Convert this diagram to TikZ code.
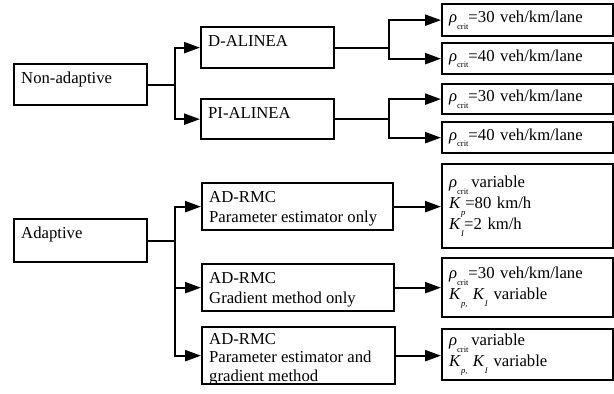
\documentclass[tikz,border=0pt]{standalone}
\usepackage{fontspec}
\setmainfont{Liberation Serif}
\usetikzlibrary{arrows.meta}
\tikzset{>={Triangle[length=16pt,width=11pt]}}
\tikzset{cell/.style={draw, line width=2.3pt, anchor=north west, inner sep=0pt},
  txt/.style={anchor=north west, align=left, inner xsep=8pt, inner ysep=9pt, font=\fontsize{16.7}{20.5}\selectfont},
  res/.style={cell, align=left, inner xsep=7pt, text width=157pt, font=\fontsize{16.7}{21}\selectfont},
  link/.style={->, line width=2.3pt}}
\newcommand{\lowsub}[1]{\raisebox{-6.5pt}{\fontsize{8.5}{8.5}\selectfont #1}}
\newcommand{\rhocrit}{\textit{ρ}\lowsub{crit}}

\begin{document}
\begin{tikzpicture}[x=1pt, y=-1pt]
    \useasboundingbox (0,0) rectangle (614,394);
    % controllers
    \node[cell, minimum width=133, minimum height=41, label={[txt]north west:Non-adaptive}] (nonad) at (13,63) {};
    \node[cell, minimum width=133, minimum height=43, label={[txt]north west:Adaptive}] (adapt) at (13,218) {};
    \node[cell, minimum width=133, minimum height=41, label={[txt]north west:D-ALINEA}] (dal) at (200,26) {};
    \node[cell, minimum width=133, minimum height=40, label={[txt]north west:PI-ALINEA}] (pial) at (200,98) {};
    \node[cell, minimum width=191, minimum height=47, label={[txt]north west:{AD-RMC\\Parameter estimator only}}] (adr1) at (201,182) {};
    \node[cell, minimum width=192, minimum height=47, label={[txt]north west:{AD-RMC\\Gradient method only}}] (adr2) at (201,263) {};
    \node[cell, minimum width=193, minimum height=57, label={[txt, inner ysep=7pt, font=\fontsize{16.7}{18.5}\selectfont]north west:{AD-RMC\\Parameter estimator and\\gradient method}}] (adr3) at (201,326) {};
    % settings
    \node[res, minimum height=32] (r1) at (441,3) {\rhocrit=30 veh/km/lane};
    \node[res, minimum height=31] (r2) at (441,42) {\rhocrit=40 veh/km/lane};
    \node[res, minimum height=30] (r3) at (441,83) {\rhocrit=30 veh/km/lane};
    \node[res, minimum height=31] (r4) at (441,121) {\rhocrit=40 veh/km/lane};
    \node[res, minimum height=84] (r5) at (441,163) {\rhocrit\,variable\\\textit{K}\lowsub{\textit{p}}=80 km/h\\\textit{K}\lowsub{\textit{I}}=2 km/h};
    \node[res, minimum height=59] (r6) at (441,257) {\rhocrit=30 veh/km/lane\\\textit{K}\lowsub{\textit{p,}} \textit{K}\lowsub{\textit{I}} variable};
    \node[res, minimum height=51] (r7) at (441,328) {\rhocrit\,variable\\\textit{K}\lowsub{\textit{p,}} \textit{K}\lowsub{\textit{I}} variable};
    % branches
    \draw[link] (nonad.east) -- ++(27,0) |- (dal.west);
    \draw[link] (nonad.east) -- ++(27,0) |- (pial.west);
    \draw[link] (dal.east) -- ++(54,0) |- (r1.west);
    \draw[link] (dal.east) -- ++(54,0) |- (r2.west);
    \draw[link] (pial.east) -- ++(54,0) |- (r3.west);
    \draw[link] (pial.east) -- ++(54,0) |- (r4.west);
    \draw[link] (adapt.east) -- ++(27,0) |- (adr1.west);
    \draw[link] (adapt.east) -- ++(27,0) |- (adr2.west);
    \draw[link] (adapt.east) -- ++(27,0) |- (adr3.west);
    \draw[link] (adr1.east) -- (adr1.east -| r5.west);
    \draw[link] (adr2.east) -- (adr2.east -| r6.west);
    \draw[link] (adr3.east) -- (adr3.east -| r7.west);
\end{tikzpicture}
\end{document}
